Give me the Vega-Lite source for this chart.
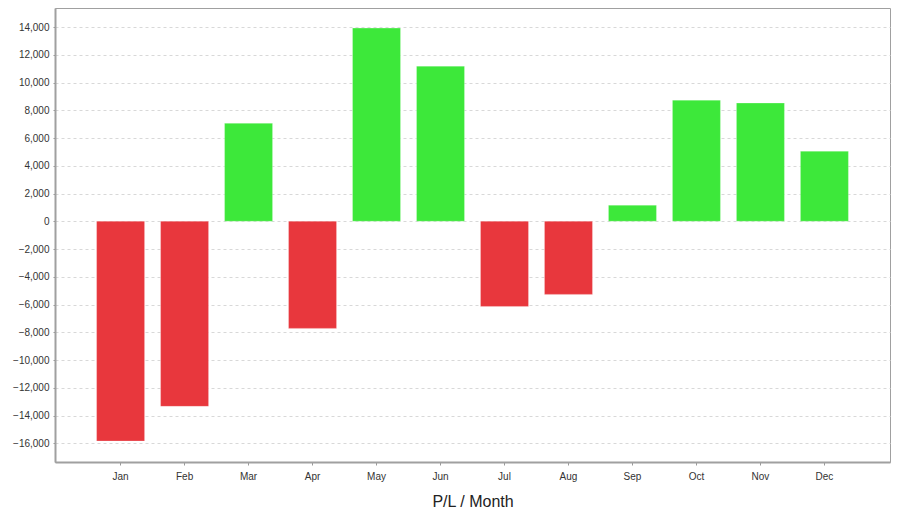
{
  "$schema": "https://vega.github.io/schema/vega-lite/v6.json",
  "width": 835,
  "height": 454,
  "autosize": {"type": "none"},
  "padding": {"left": 55, "top": 8, "right": 10, "bottom": 57},
  "background": "white",
  "config": {
    "font": "Liberation Sans",
    "view": {"stroke": "#a0a0a0", "strokeWidth": 1}
  },
  "data": {
    "values": [
      {"month": "Jan", "pl": -15840},
      {"month": "Feb", "pl": -13340},
      {"month": "Mar", "pl": 7060},
      {"month": "Apr", "pl": -7720},
      {"month": "May", "pl": 13920},
      {"month": "Jun", "pl": 11180},
      {"month": "Jul", "pl": -6140},
      {"month": "Aug", "pl": -5270},
      {"month": "Sep", "pl": 1160},
      {"month": "Oct", "pl": 8730},
      {"month": "Nov", "pl": 8520},
      {"month": "Dec", "pl": 5050}
    ]
  },
  "mark": {"type": "bar", "stroke": "#ffffff", "strokeOpacity": 0.5, "strokeWidth": 0.5},
  "encoding": {
    "x": {
      "field": "month",
      "type": "ordinal",
      "sort": null,
      "scale": {"paddingInner": 0.25, "paddingOuter": 0.65},
      "axis": {
        "title": "P/L / Month",
        "titleFont": "Liberation Sans",
        "titleFontSize": 16,
        "titleFontWeight": "normal",
        "titleColor": "#222222",
        "titlePadding": 12,
        "labelAngle": 0,
        "labelFontSize": 10,
        "labelColor": "#333333",
        "labelPadding": 6,
        "tickSize": 3,
        "tickColor": "#999999",
        "domainColor": "#a0a0a0",
        "domainWidth": 2
      }
    },
    "y": {
      "field": "pl",
      "type": "quantitative",
      "scale": {"domain": [-17350, 15370], "nice": false, "zero": false},
      "axis": {
        "title": null,
        "values": [-16000, -14000, -12000, -10000, -8000, -6000, -4000, -2000, 0, 2000, 4000, 6000, 8000, 10000, 12000, 14000],
        "format": ",d",
        "labelFontSize": 10,
        "labelColor": "#333333",
        "labelPadding": 4,
        "tickSize": 2,
        "tickColor": "#999999",
        "domainColor": "#a0a0a0",
        "domainWidth": 2,
        "grid": true,
        "gridColor": "#d8d8d8",
        "gridDash": [3, 3]
      }
    },
    "color": {
      "condition": {"test": "datum.pl >= 0", "value": "#3de83a"},
      "value": "#e8373d"
    }
  }
}
